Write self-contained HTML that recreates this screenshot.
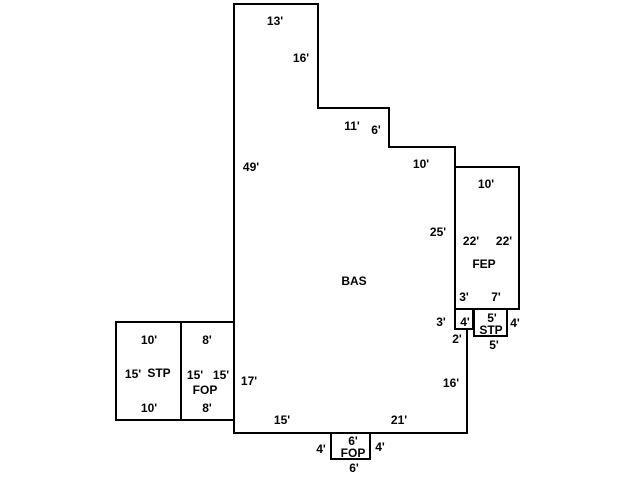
<!DOCTYPE html>
<html><head><style>body{margin:0;background:#fff}svg text{font-family:"Liberation Sans",sans-serif;font-weight:bold;font-size:12px;text-anchor:middle}</style></head>
<body><svg width="640" height="480" viewBox="0 0 640 480">
<g fill="none" stroke="#000" stroke-width="2">
<path d="M234,4H318V108H389V147H455V329H467V433H234Z"/>
<rect x="455" y="167" width="64" height="142"/>
<rect x="455" y="309" width="18" height="20"/>
<rect x="474" y="309" width="33" height="27"/>
<rect x="331" y="433" width="39" height="26"/>
<rect x="116" y="322" width="65" height="98"/>
<rect x="181" y="322" width="53" height="98"/>
</g>
<g>
<text x="275" y="25">13'</text><text x="301" y="62">16'</text>
<text x="352" y="130">11'</text><text x="376" y="134">6'</text>
<text x="421" y="168">10'</text><text x="251" y="171">49'</text>
<text x="486" y="188">10'</text><text x="438" y="236">25'</text>
<text x="471" y="245">22'</text><text x="504" y="245">22'</text>
<text x="484" y="268">FEP</text><text x="354" y="285">BAS</text>
<text x="464" y="301">3'</text><text x="496" y="301">7'</text>
<text x="441" y="326">3'</text><text x="465" y="326">4'</text>
<text x="492" y="322">5'</text><text x="491" y="334">STP</text>
<text x="515" y="327">4'</text><text x="457" y="343">2'</text>
<text x="494" y="349">5'</text>
<text x="149" y="344">10'</text><text x="207" y="344">8'</text>
<text x="133" y="378">15'</text><text x="159" y="377">STP</text>
<text x="195" y="379">15'</text><text x="221" y="379">15'</text>
<text x="205" y="394">FOP</text><text x="249" y="385">17'</text>
<text x="149" y="412">10'</text><text x="207" y="412">8'</text>
<text x="451" y="387">16'</text><text x="282" y="424">15'</text>
<text x="399" y="424">21'</text>
<text x="353" y="445">6'</text><text x="353" y="457">FOP</text>
<text x="321" y="453">4'</text><text x="380" y="451">4'</text>
<text x="354" y="472">6'</text>
</g></svg></body></html>
